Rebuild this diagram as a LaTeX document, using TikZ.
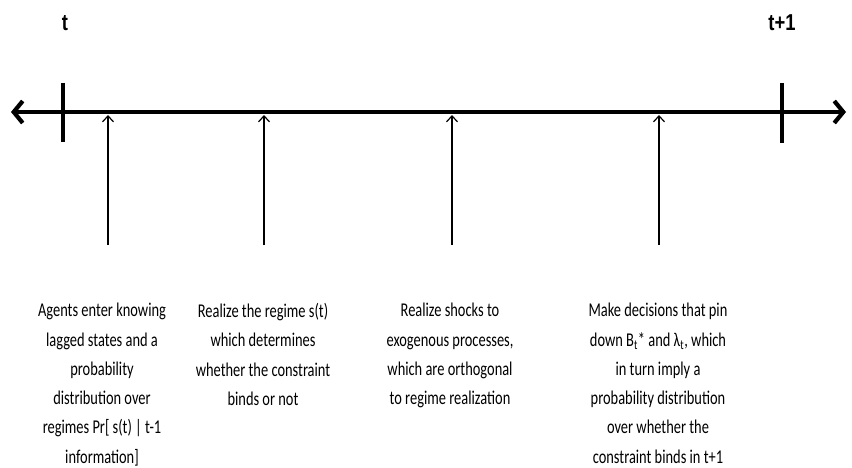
\documentclass[tikz,border=0pt]{standalone}
\usepackage{fontspec}
\usetikzlibrary{arrows.meta}
\newfontfamily\calfont[FakeStretch=0.74]{Carlito}
\newfontfamily\headfont[FakeStretch=0.8]{Liberation Sans}
\begin{document}
\begin{tikzpicture}[x=1pt,y=-1pt,
  mainline/.style={line width=4.6pt,{Straight Barb[length=9pt,width=22pt,line width=4.2pt]}-{Straight Barb[length=9pt,width=22pt,line width=4.2pt]}},
  tickmark/.style={line width=3.6pt},
  eventarrow/.style={line width=1.2pt,-{Straight Barb[length=6pt,width=11pt,line width=1.2pt]}},
  eventtext/.style={align=center,inner sep=0pt,anchor=north,font=\calfont\fontsize{19.5}{29.3}\selectfont},
  periodlabel/.style={inner sep=0pt,font=\headfont\bfseries\fontsize{23}{26}\selectfont}]
\useasboundingbox (0,0) rectangle (852,468);
\coordinate (L) at (11,112);
\coordinate (R) at (846,112);
\draw[mainline] (L) -- (R);
\coordinate (t0a) at (63,83); \coordinate (t0b) at (63,142);
\coordinate (t1a) at (782,83); \coordinate (t1b) at (782,143);
\draw[tickmark] (t0a) -- (t0b);
\draw[tickmark] (t1a) -- (t1b);
\node[periodlabel] (lt) at (65,23) {t};
\node[periodlabel] (lt1) at (782,23) {t+1};
\foreach \n/\x in {a/108,b/264,c/452,d/659}{
  \coordinate (\n0) at (\x,245);
  \coordinate (\n1) at (\x,115);
  \draw[eventarrow] (\n0) -- (\n1);
}
\node[eventtext] (ta) at (102,303) {Agents enter knowing\\lagged states and a\\probability\\distribution over\\regimes Pr[ s(t) | t-1\\information]};
\node[eventtext] (tb) at (263,303) {Realize the regime s(t)\\which determines\\whether the constraint\\binds or not};
\node[eventtext] (tc) at (450,303) {Realize shocks to\\exogenous processes,\\which are orthogonal\\to regime realization};
\node[eventtext] (td) at (658,303) {Make decisions that pin\\down B\textsubscript{t}* and λ\textsubscript{t}, which\\in turn imply a\\probability distribution\\over whether the\\constraint binds in t+1};
\end{tikzpicture}
\end{document}
